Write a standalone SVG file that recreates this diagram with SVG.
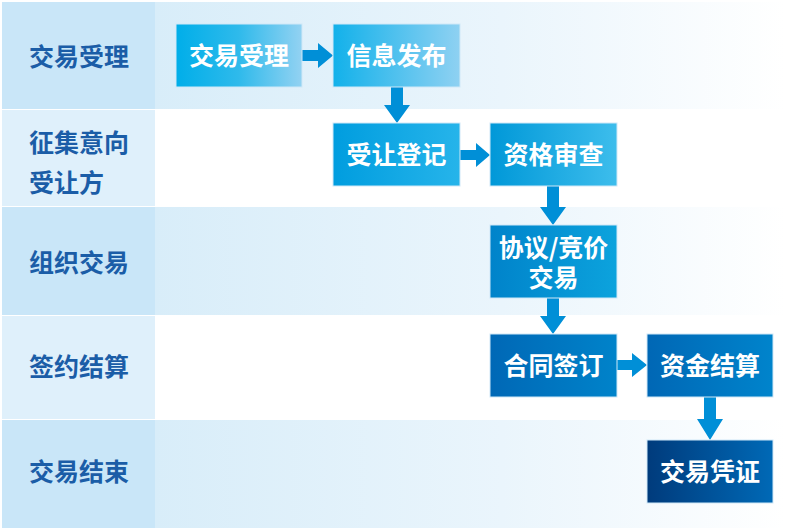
<svg xmlns="http://www.w3.org/2000/svg" width="800" height="530" viewBox="0 0 800 530">
<defs>
<linearGradient id="rowg" x1="0" y1="0" x2="1" y2="0">
<stop offset="0" stop-color="#d8edf9"/>
<stop offset="0.55" stop-color="#eaf5fc"/>
<stop offset="1" stop-color="#ffffff"/>
</linearGradient>
<linearGradient id="g1" x1="0" y1="0" x2="1" y2="0"><stop offset="0" stop-color="#00aee9"/><stop offset="0.5" stop-color="#2fbaeb"/><stop offset="1" stop-color="#93d2f2"/></linearGradient>
<linearGradient id="g2" x1="0" y1="0" x2="1" y2="0"><stop offset="0" stop-color="#12b1ea"/><stop offset="1" stop-color="#8fd1f2"/></linearGradient>
<linearGradient id="g3" x1="0" y1="0" x2="1" y2="0"><stop offset="0" stop-color="#009ddf"/><stop offset="1" stop-color="#26b4ea"/></linearGradient>
<linearGradient id="g4" x1="0" y1="0" x2="1" y2="0"><stop offset="0" stop-color="#0098d8"/><stop offset="1" stop-color="#3dbdec"/></linearGradient>
<linearGradient id="g5" x1="0" y1="0" x2="1" y2="0"><stop offset="0" stop-color="#0083ca"/><stop offset="1" stop-color="#0ca3dd"/></linearGradient>
<linearGradient id="g6" x1="0" y1="0" x2="1" y2="0"><stop offset="0" stop-color="#0068b6"/><stop offset="1" stop-color="#0083ca"/></linearGradient>
<linearGradient id="g7" x1="0" y1="0" x2="1" y2="0"><stop offset="0" stop-color="#0067b5"/><stop offset="1" stop-color="#0084cc"/></linearGradient>
<linearGradient id="g8" x1="0" y1="0" x2="1" y2="0"><stop offset="0" stop-color="#003b7c"/><stop offset="1" stop-color="#0069b6"/></linearGradient>
</defs>
<style>
.lbl{font-family:"Noto Sans CJK SC","Noto Sans",sans-serif;font-weight:bold;font-size:25px;fill:#1b5da7}
.bt{font-family:"Noto Sans CJK SC","Noto Sans",sans-serif;font-weight:bold;font-size:25px;fill:#ffffff;text-anchor:middle}
.box{stroke:#cfe8f7;stroke-width:1}
.arr{fill:#008fd7}
.cellA{fill:#c9e6f8}
.cellB{fill:#dff0fb}
</style>
<rect width="800" height="530" fill="#ffffff"/>
<g id="lanes">
<rect x="155" y="2" width="630" height="107" fill="url(#rowg)"/>
<rect x="155" y="207" width="630" height="108" fill="url(#rowg)"/>
<rect x="155" y="420" width="630" height="108" fill="url(#rowg)"/>
<rect class="cellA" x="2" y="2" width="153" height="107"/>
<rect class="cellB" x="2" y="110" width="153" height="96"/>
<rect class="cellA" x="2" y="207" width="153" height="108"/>
<rect class="cellB" x="2" y="316" width="153" height="103"/>
<rect class="cellA" x="2" y="420" width="153" height="108"/>
<text class="lbl" x="29" y="66">交易受理</text>
<text class="lbl" x="29" y="152">征集意向<tspan x="29" y="192">受让方</tspan></text>
<text class="lbl" x="29" y="272">组织交易</text>
<text class="lbl" x="29" y="376">签约结算</text>
<text class="lbl" x="29" y="481">交易结束</text>
</g>
<g id="connectors">
<polygon class="arr" points="302,50 318,50 318,43 333,55.5 318,68 318,61 302,61"/>
<polygon class="arr" points="391,87 403,87 403,105 410,105 397,123 384,105 391,105"/>
<polygon class="arr" points="460,150 476,150 476,143 490,155 476,167 476,160 460,160"/>
<polygon class="arr" points="547,186 559,186 559,207 566,207 553,225 540,207 547,207"/>
<polygon class="arr" points="547,298 559,298 559,316 566,316 553,334 540,316 547,316"/>
<polygon class="arr" points="617,360 632,360 632,353 647,365 632,377 632,370 617,370"/>
<polygon class="arr" points="704,397 716,397 716,419 723,419 710,440 697,419 704,419"/>
</g>
<g id="n1"><rect class="box" x="176" y="24" width="126" height="63" fill="url(#g1)"/><text class="bt" x="239" y="64.5">交易受理</text></g>
<g id="n2"><rect class="box" x="333" y="24" width="127" height="63" fill="url(#g2)"/><text class="bt" x="396.5" y="64.5">信息发布</text></g>
<g id="n3"><rect class="box" x="333" y="123" width="127" height="63" fill="url(#g3)"/><text class="bt" x="396.5" y="164">受让登记</text></g>
<g id="n4"><rect class="box" x="490" y="123" width="127" height="63" fill="url(#g4)"/><text class="bt" x="553.5" y="164">资格审查</text></g>
<g id="n5"><rect class="box" x="490" y="225" width="127" height="73" fill="url(#g5)"/><text class="bt" x="553.5" y="257">协议/竞价<tspan x="553.5" y="287">交易</tspan></text></g>
<g id="n6"><rect class="box" x="490" y="334" width="127" height="63" fill="url(#g6)"/><text class="bt" x="553.5" y="374.5">合同签订</text></g>
<g id="n7"><rect class="box" x="647" y="334" width="126" height="63" fill="url(#g7)"/><text class="bt" x="710" y="374.5">资金结算</text></g>
<g id="n8"><rect class="box" x="647" y="440" width="126" height="63" fill="url(#g8)"/><text class="bt" x="710" y="480.5">交易凭证</text></g>
</svg>
